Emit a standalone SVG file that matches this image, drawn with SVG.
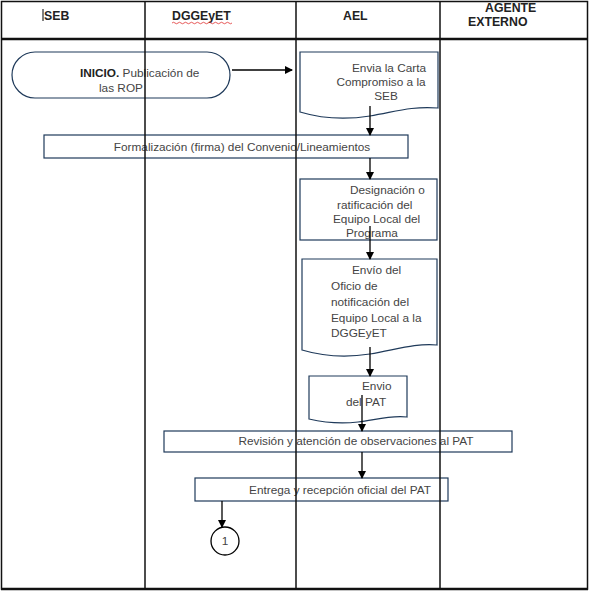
<svg xmlns="http://www.w3.org/2000/svg" width="590" height="592" viewBox="0 0 590 592">
<defs>
<style>
.grid{stroke:#111;fill:none}
.shape{fill:#fff;stroke:#1f3a5a;stroke-width:1.2}
.t{font-family:"Liberation Sans",Arial,sans-serif;font-size:11.8px;fill:#444}
.h{font-family:"Liberation Sans",Arial,sans-serif;font-size:12.3px;fill:#222;font-weight:bold}
.c{stroke:#000;stroke-width:1.3;fill:none}
</style>
<marker id="ah" markerWidth="8" markerHeight="8" refX="7" refY="4" orient="auto" markerUnits="userSpaceOnUse">
<path d="M0,0 L8,4 L0,8 z" fill="#000"/>
</marker>
</defs>
<rect width="590" height="592" fill="#fff"/>
<g id="inicio">
<rect class="shape" x="12" y="52" width="218" height="46" rx="23" ry="23"/>
<text class="t" x="80" y="77"><tspan font-weight="bold" fill="#222">INICIO.</tspan> Publicación de</text>
<text class="t" x="99" y="92">las ROP</text>
</g>
<g id="carta">
<path class="shape" d="M300,52 H438 V108 C410,106 395,112 370,116 C345,120 320,118 300,112 Z"/>
<text class="t" x="389" y="72" text-anchor="middle">Envia la Carta</text>
<text class="t" x="381" y="86" text-anchor="middle">Compromiso a la</text>
<text class="t" x="386" y="100" text-anchor="middle">SEB</text>
</g>
<g id="formalizacion">
<rect class="shape" x="44" y="135" width="364" height="23"/>
<text class="t" x="242" y="151" text-anchor="middle">Formalización (firma) del Convenio/Lineamientos</text>
</g>
<g id="designacion">
<rect class="shape" x="300" y="179" width="137" height="61"/>
<text class="t" x="350" y="194">Designación o</text>
<text class="t" x="337" y="209">ratificación del</text>
<text class="t" x="333" y="223">Equipo Local del</text>
<text class="t" x="346" y="237">Programa</text>
</g>
<g id="oficio">
<path class="shape" d="M302,259 H437 V345 C415,343 395,350 370,354 C345,358 322,356 302,350 Z"/>
<text class="t" x="352" y="274">Envío del</text>
<text class="t" x="331" y="290">Oficio de</text>
<text class="t" x="331" y="306">notificación del</text>
<text class="t" x="331" y="322">Equipo Local a la</text>
<text class="t" x="331" y="337">DGGEyET</text>
</g>
<g id="envio-pat">
<path class="shape" d="M309,376 H407 V417 C390,415 375,420 358,422 C340,424 322,422 309,419 Z"/>
<text class="t" x="362" y="390">Envio</text>
<text class="t" x="346" y="406">del PAT</text>
</g>
<g id="revision">
<rect class="shape" x="164" y="431" width="348" height="21"/>
<text class="t" x="356" y="445" text-anchor="middle">Revisión y atención de observaciones al PAT</text>
</g>
<g id="entrega">
<rect class="shape" x="195" y="478" width="253" height="23"/>
<text class="t" x="340" y="494" text-anchor="middle">Entrega y recepción oficial del PAT</text>
</g>
<g id="conector1">
<circle cx="225" cy="541" r="14" fill="#fff" stroke="#000" stroke-width="1.3"/>
<text class="t" x="225" y="545" text-anchor="middle" fill="#111">1</text>
</g>
<g id="connectors">
<line class="c" x1="232" y1="70" x2="292" y2="70" marker-end="url(#ah)"/>
<line class="c" x1="370" y1="106" x2="370" y2="135" marker-end="url(#ah)"/>
<line class="c" x1="370" y1="158" x2="370" y2="179" marker-end="url(#ah)"/>
<line class="c" x1="370" y1="226" x2="370" y2="259" marker-end="url(#ah)"/>
<line class="c" x1="370" y1="347" x2="370" y2="376" marker-end="url(#ah)"/>
<line class="c" x1="362" y1="395" x2="362" y2="431" marker-end="url(#ah)"/>
<line class="c" x1="362" y1="452" x2="362" y2="478" marker-end="url(#ah)"/>
<line class="c" x1="222" y1="501" x2="222" y2="527" marker-end="url(#ah)"/>
</g>
<g id="table">
<rect class="grid" x="1.5" y="1.5" width="586" height="587.5" stroke-width="1.5"/>
<line class="grid" x1="1" y1="39" x2="588" y2="39" stroke-width="2.5"/>
<line class="grid" x1="1" y1="589" x2="588" y2="589" stroke-width="2.5"/>
<line class="grid" x1="145" y1="1" x2="145" y2="589" stroke-width="1.5"/>
<line class="grid" x1="296" y1="1" x2="296" y2="589" stroke-width="1.5"/>
<line class="grid" x1="440" y1="1" x2="440" y2="589" stroke-width="1.5"/>
<line x1="43" y1="9" x2="43" y2="21" stroke="#000" stroke-width="1"/>
<text class="h" x="44" y="20">SEB</text>
<text class="h" x="172" y="20">DGGEyET</text>
<path d="M172,23 q1.5,-1.5 3,0 t3,0 t3,0 t3,0 t3,0 t3,0 t3,0 t3,0 t3,0 t3,0 t3,0 t3,0 t3,0 t3,0 t3,0 t3,0 t3,0 t3,0 t3,0 t3,0" stroke="#e03030" stroke-width="0.8" fill="none"/>
<text class="h" x="343" y="20">AEL</text>
<text class="h" x="485" y="12">AGENTE</text>
<text class="h" x="468" y="26">EXTERNO</text>
</g>
</svg>
